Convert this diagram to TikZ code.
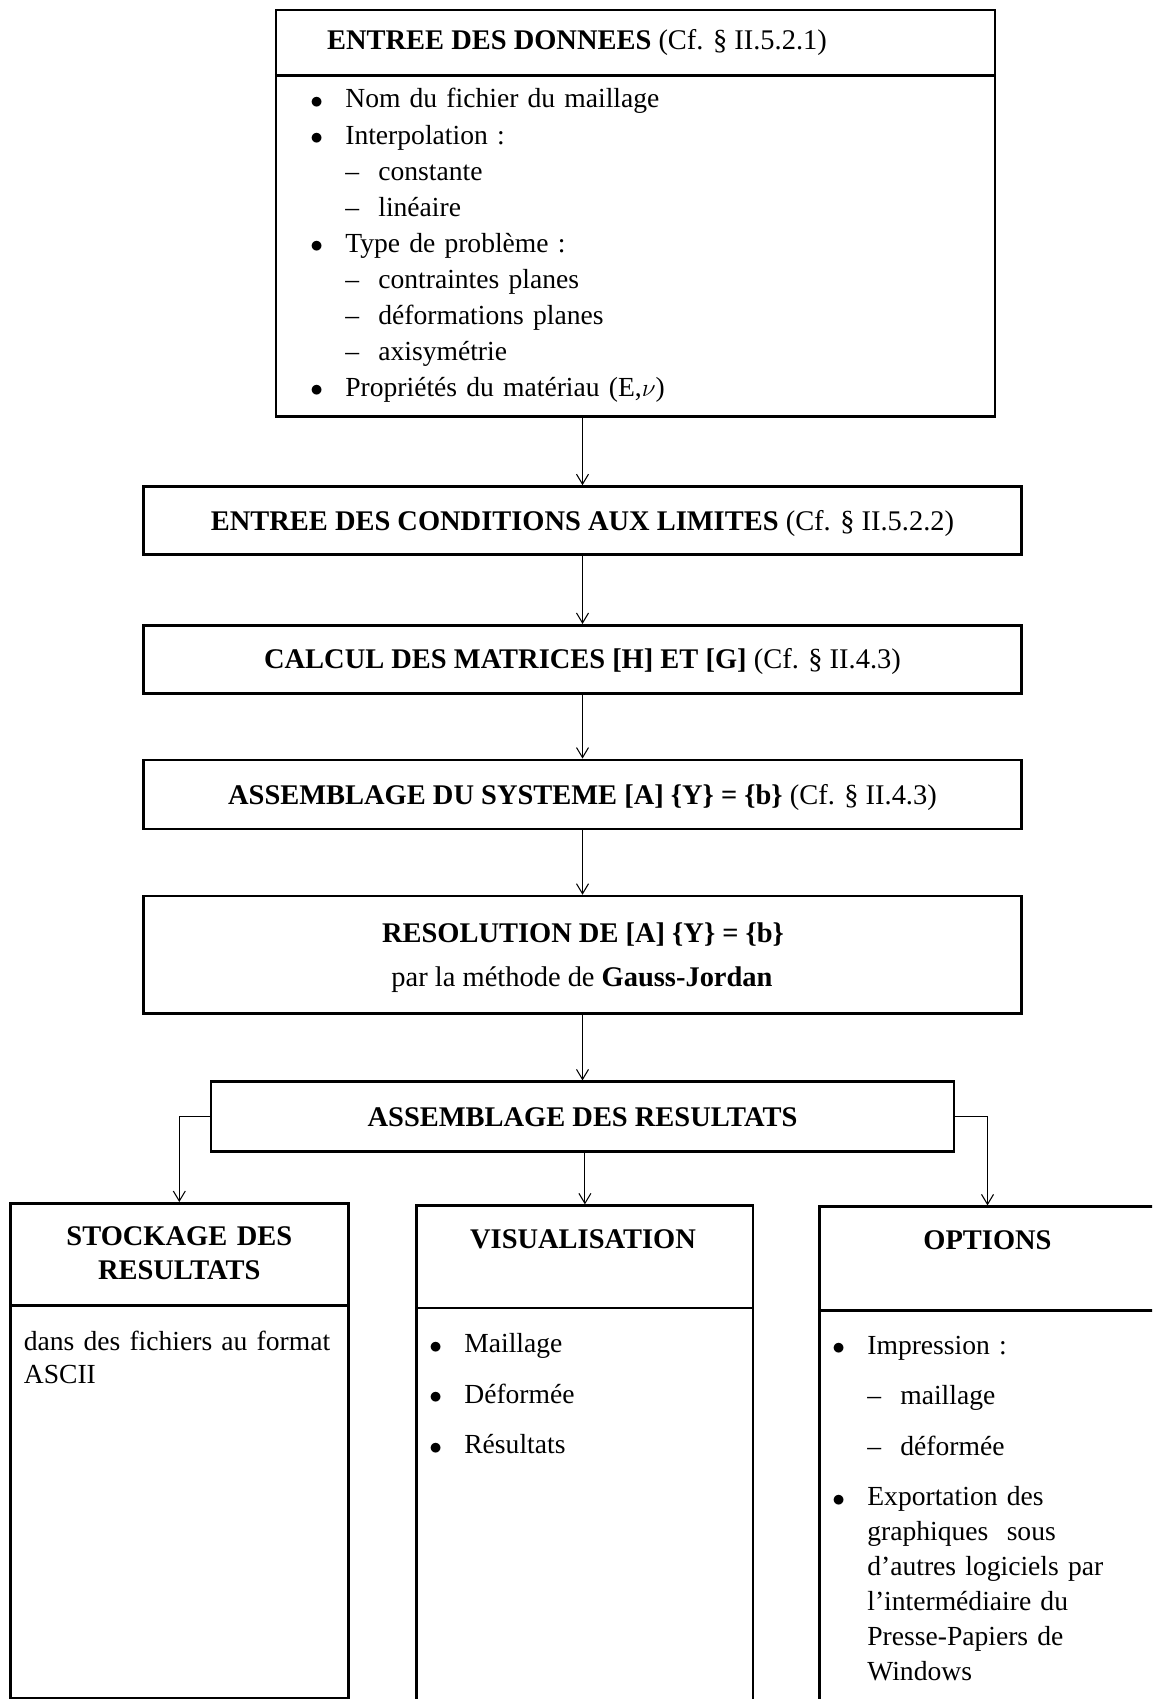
\documentclass[tikz,border=0pt]{standalone}
\usepackage{fontspec}
\setmainfont{Liberation Serif}
\usetikzlibrary{arrows.meta}

\newcommand{\puce}[1]{\makebox[0.7cm][l]{\raisebox{-0.2pt}{$\bullet$}}#1}
\newcommand{\tiret}[1]{\hspace*{0.7cm}\makebox[0.66cm][l]{--}#1}
\newcommand{\suite}[1]{\hspace*{0.7cm}#1}

\begin{document}
\begin{tikzpicture}[x=0.02cm, y=-0.02cm,
    boite/.style={draw, line width=1.5pt, rectangle, inner sep=0pt,
        font=\fontsize{16.2pt}{20pt}\selectfont, text height=11pt, text depth=0pt},
    separe/.style={line width=1.5pt},
    plain/.style={inner sep=0pt, font=\fontsize{16.2pt}{20pt}\selectfont},
    texte/.style={inner sep=0pt, anchor=base west, align=left,
        font=\fontsize{15.7pt}{20.5pt}\selectfont},
    fleche/.style={line width=0.6pt, -{Straight Barb[length=2mm, width=2.4mm]}}]
    \useasboundingbox (0,0) rectangle (1152,1699);
    \clip (0,0) rectangle (1152,1699);

    % ノードを描画
    \node[boite, minimum width=14.38cm, minimum height=8.13cm] (donnees) at (635.5, 213.3) {};
    \draw[separe] ([yshift=-1.334cm]donnees.north west) -- ([yshift=-1.334cm]donnees.north east);
    \node[plain, anchor=base] (donneestitre) at (577, 50) {\textbf{ENTREE DES DONNEES} (Cf. § II.5.2.1)};
    \node[texte, text width=12cm] (donneesliste) at (310, 108) {%
        \puce{Nom du fichier du maillage}\\
        \puce{Interpolation :}\\
        \tiret{constante}\\
        \tiret{linéaire}\\
        \puce{Type de problème :}\\
        \tiret{contraintes planes}\\
        \tiret{déformations planes}\\
        \tiret{axisymétrie}\\
        \puce{Propriétés du matériau (E,$\nu$)}};

    \node[boite, minimum width=17.56cm, minimum height=1.36cm] (cond) at (582.5, 520.5)
        {\textbf{ENTREE DES CONDITIONS AUX LIMITES} (Cf. § II.5.2.2)};
    \node[boite, minimum width=17.56cm, minimum height=1.36cm] (calcul) at (582.5, 659.3)
        {\textbf{CALCUL DES MATRICES [H] ET [G]} (Cf. § II.4.3)};
    \node[boite, minimum width=17.56cm, minimum height=1.38cm] (assemb) at (582.5, 794.4)
        {\textbf{ASSEMBLAGE DU SYSTEME [A] \{Y\} = \{b\}} (Cf. § II.4.3)};

    \node[boite, minimum width=17.56cm, minimum height=2.35cm] (resol) at (582.5, 954.8) {};
    \node[plain, anchor=base] (resoltitre) at (583, 942.8) {\textbf{RESOLUTION DE [A] \{Y\} = \{b\}}};
    \node[plain, anchor=base] (resolmethode) at (582, 986.8) {par la méthode de \textbf{Gauss-Jordan}};

    \node[boite, minimum width=14.86cm, minimum height=1.4cm] (result) at (582.5, 1116.7)
        {\textbf{ASSEMBLAGE DES RESULTATS}};

    \node[boite, minimum width=6.76cm, minimum height=9.9cm] (stock) at (179.3, 1450.8) {};
    \draw[separe] ([yshift=-2.068cm]stock.north west) -- ([yshift=-2.068cm]stock.north east);
    \node[plain, anchor=base, text width=6cm, align=center, font=\fontsize{16.2pt}{19.9pt}\selectfont\bfseries]
        (stocktitre) at (179.3, 1245) {STOCKAGE DES\\RESULTATS};
    \node[texte, text width=6.4cm] (stockliste) at (23.5, 1350) {dans des fichiers au format\\[-1.5pt]ASCII};

    \node[boite, minimum width=6.73cm, minimum height=10.09cm] (visu) at (584.9, 1457.9) {};
    \draw[separe] ([yshift=-2.072cm]visu.north west) -- ([yshift=-2.072cm]visu.north east);
    \node[plain, anchor=base] (visutitre) at (583, 1248) {\textbf{VISUALISATION}};
    \node[texte, text width=6cm] (visuliste) at (429, 1352.7) {%
        \puce{Maillage}\\[8.3pt]
        \puce{Déformée}\\[8.3pt]
        \puce{Résultats}};

    \node[boite, minimum width=6.73cm, minimum height=10.07cm] (opt) at (987.5, 1458.4) {};
    \draw[separe] ([yshift=-2.1cm]opt.north west) -- ([yshift=-2.1cm]opt.north east);
    \node[plain, anchor=base] (opttitre) at (987.5, 1249) {\textbf{OPTIONS}};
    \node[texte, text width=6.2cm] (optliste) at (832, 1354) {%
        \puce{Impression :}\\[8.3pt]
        \tiret{maillage}\\[8.3pt]
        \tiret{déformée}\\[8.3pt]
        \puce{Exportation des}\\[-0.6pt]
        \suite{graphiques~ sous}\\[-0.6pt]
        \suite{d’autres logiciels par}\\[-0.6pt]
        \suite{l’intermédiaire du}\\[-0.6pt]
        \suite{Presse-Papiers de}\\[-0.6pt]
        \suite{Windows}};

    % エッジを描画
    \draw[fleche] (donnees.south -| cond.north) -- (cond.north);
    \draw[fleche] (cond.south) -- (calcul.north);
    \draw[fleche] (calcul.south) -- (assemb.north);
    \draw[fleche] (assemb.south) -- (resol.north);
    \draw[fleche] (resol.south) -- (result.north);
    \draw[fleche] (result.west) -| (stock.north);
    \draw[fleche] (result.south -| visu.north) -- (visu.north);
    \draw[fleche] (result.east) -| (opt.north);
\end{tikzpicture}
\end{document}
